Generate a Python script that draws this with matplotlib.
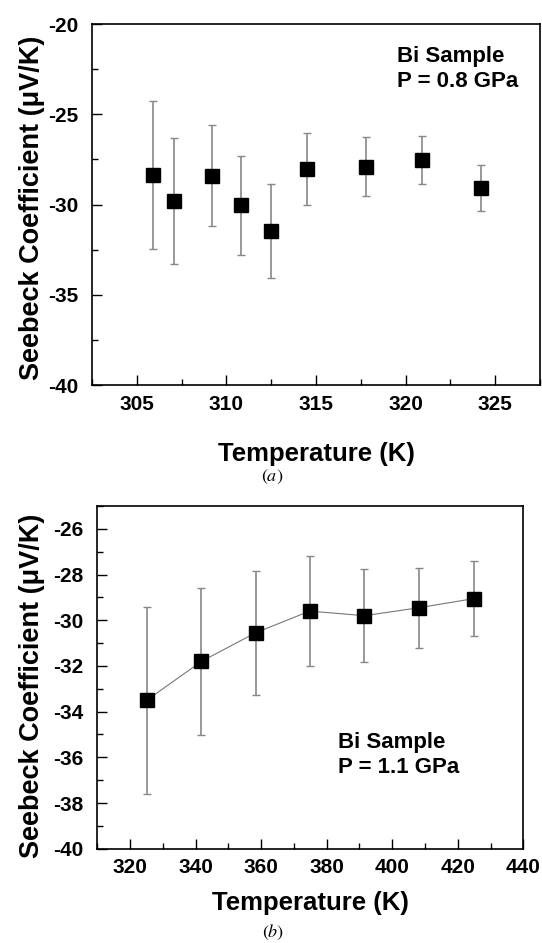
import numpy as np
import matplotlib
matplotlib.use('Agg')
import matplotlib.pyplot as plt
from matplotlib.ticker import MultipleLocator

plt.rcParams['font.family'] = ['Liberation Sans', 'DejaVu Sans']
plt.rcParams['axes.unicode_minus'] = False
plt.rcParams['mathtext.fontset'] = 'stix'

# panel (a): P = 0.8 GPa
temp_a = [305.9, 307.1, 309.2, 310.8, 312.5, 314.5, 317.8, 320.9, 324.2]
seebeck_a = [-28.35, -29.8, -28.4, -30.05, -31.45, -28.05, -27.9, -27.55, -29.1]
err_a = [4.1, 3.5, 2.8, 2.73, 2.6, 2.0, 1.65, 1.33, 1.28]

# panel (b): P = 1.1 GPa
temp_b = [325.1, 341.8, 358.3, 374.8, 391.5, 408.3, 425.0]
seebeck_b = [-33.5, -31.8, -30.55, -29.6, -29.8, -29.45, -29.05]
err_b = [4.1, 3.23, 2.71, 2.4, 2.03, 1.75, 1.65]

fig = plt.figure(figsize=(5.42, 9.43), dpi=100)
ax1 = fig.add_axes([0.1697, 0.5917, 0.8266, 0.3828])
ax2 = fig.add_axes([0.1795, 0.1000, 0.7860, 0.3634])


def style_axes(ax, xpad):
    ax.tick_params(which='both', direction='in', top=False, right=False,
                   labelsize=15, width=1.0)
    ax.tick_params(which='major', length=7)
    ax.tick_params(which='minor', length=4.5)
    ax.tick_params(axis='x', pad=7)
    ax.tick_params(axis='y', pad=10)
    for lbl in ax.get_xticklabels() + ax.get_yticklabels():
        lbl.set_fontweight('bold')
    for sp in ax.spines.values():
        sp.set_linewidth(1.2)
    ax.set_xlabel('Temperature (K)', fontsize=18.5, fontweight='bold', labelpad=xpad)
    ax.set_ylabel('Seebeck Coefficient (μV/K)', fontsize=19.5, fontweight='bold')


ax1.errorbar(temp_a, seebeck_a, yerr=err_a, fmt='s', color='black', ms=10,
             ecolor='#888888', elinewidth=1.2, capsize=3, capthick=1.0)
ax1.set_xlim(302.5, 327.5)
ax1.set_ylim(-40, -20)
ax1.xaxis.set_major_locator(MultipleLocator(5))
ax1.xaxis.set_minor_locator(MultipleLocator(2.5))
ax1.yaxis.set_major_locator(MultipleLocator(5))
ax1.yaxis.set_minor_locator(MultipleLocator(2.5))
style_axes(ax1, 20)
ax1.yaxis.set_label_coords(-0.105, 0.49)
ax1.text(0.68, 0.94, 'Bi Sample\nP = 0.8 GPa', transform=ax1.transAxes,
         fontsize=16, fontweight='bold', va='top', ha='left', linespacing=1.25)

ax2.plot(temp_b, seebeck_b, '-', color='#777777', lw=0.8, zorder=1)
ax2.errorbar(temp_b, seebeck_b, yerr=err_b, fmt='s', color='black', ms=10,
             ecolor='#888888', elinewidth=1.2, capsize=3, capthick=1.0, zorder=2)
ax2.set_xlim(310, 440)
ax2.set_ylim(-40, -25)
ax2.xaxis.set_major_locator(MultipleLocator(20))
ax2.xaxis.set_minor_locator(MultipleLocator(10))
ax2.yaxis.set_major_locator(MultipleLocator(2))
ax2.yaxis.set_minor_locator(MultipleLocator(1))
style_axes(ax2, 10)
ax2.yaxis.set_label_coords(-0.123, 0.475)
ax2.text(0.565, 0.34, 'Bi Sample\nP = 1.1 GPa', transform=ax2.transAxes,
         fontsize=16, fontweight='bold', va='top', ha='left', linespacing=1.25)

fig.text(0.503, 1 - 477 / 943, r'$(\mathit{a})$', fontsize=13,
         ha='center', va='center')
fig.text(0.503, 1 - 932 / 943, r'$(\mathit{b})$', fontsize=13,
         ha='center', va='center')

fig.savefig('out.png', dpi=100)
